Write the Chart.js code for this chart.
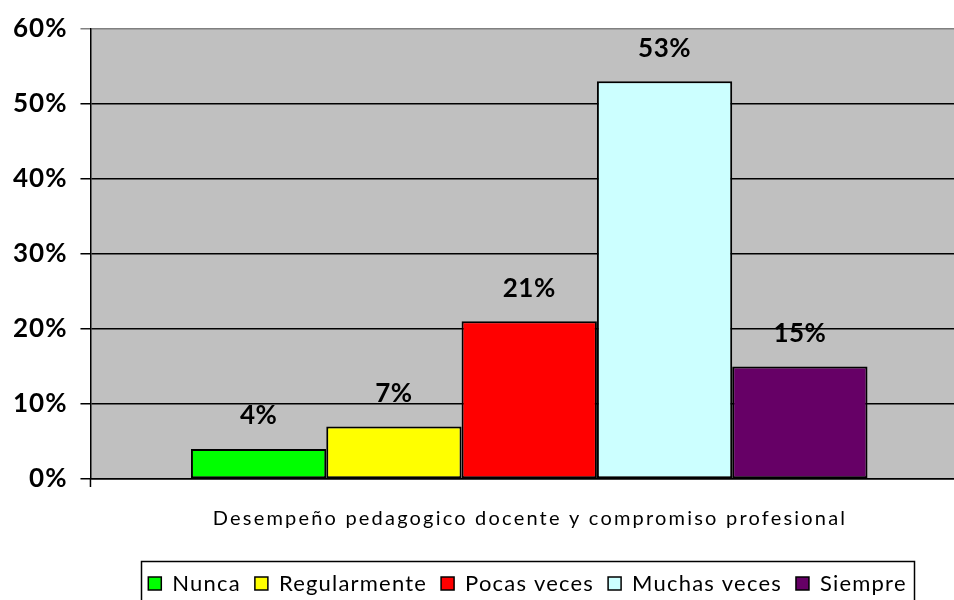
<!DOCTYPE html>
<html>
<head>
<meta charset="utf-8">
<script src="https://cdn.jsdelivr.net/npm/chart.js@4"></script>
<style>
  body { margin: 0; background: #fff; }
  #wrap { width: 954px; height: 600px; }
</style>
</head>
<body>
<div id="wrap"><canvas id="myChart" width="954" height="600"></canvas></div>
<script>
var categories = ["Desempeño pedagogico docente y compromiso profesional"];
var seriesNames = ["Nunca", "Regularmente", "Pocas veces", "Muchas veces", "Siempre"];
var seriesValues = [4, 7, 21, 53, 15];
var seriesColors = ["#00FF00", "#FFFF00", "#FF0000", "#CCFFFF", "#660066"];
var yTicks = [0, 10, 20, 30, 40, 50, 60];

var FONT = 'Lato, "Open Sans", sans-serif';
var ctx = document.getElementById("myChart");

var datasets = [];
for (var i = 0; i < seriesNames.length; i++) {
    datasets.push({
        label: seriesNames[i],
        data: [seriesValues[i]],
        backgroundColor: seriesColors[i],
        borderColor: '#000000',
        borderWidth: 2,
        borderSkipped: false,
        categoryPercentage: 0.771,
        barPercentage: 1
    });
}

// wider letter spacing, like the original rendering
var spacing = {
    id: 'spacing',
    beforeUpdate: function (chart) { chart.ctx.letterSpacing = '1px'; },
    beforeDraw: function (chart) { chart.ctx.letterSpacing = '1px'; }
};

// the original plot area runs a little past the right edge of the picture
var widenX = {
    id: 'widenX',
    afterLayout: function (chart) {
        var x = chart.scales.x;
        x.right += 14;
        x.width += 14;
        x.configure();
    }
};

// gray plot background
var plotBg = {
    id: 'plotBg',
    beforeDraw: function (chart) {
        var a = chart.chartArea;
        var c = chart.ctx;
        c.save();
        c.fillStyle = '#C0C0C0';
        c.fillRect(a.left, a.top, a.right - a.left, a.bottom - a.top);
        c.restore();
    }
};

// value labels above bars, x title, legend
var valueLabels = {
    id: 'valueLabels',
    afterDatasetsDraw: function (chart) {
        var c = chart.ctx;
        c.save();
        c.font = 'bold 26px ' + FONT;
        c.letterSpacing = '0.5px';
        c.fillStyle = '#000';
        c.textAlign = 'center';
        c.textBaseline = 'middle';
        chart.data.datasets.forEach(function (ds, i) {
            var bar = chart.getDatasetMeta(i).data[0];
            c.fillText(ds.data[0] + '%', bar.x, bar.y - 33);
        });
        c.restore();
    },
    afterDraw: function (chart) {
        var c = chart.ctx;
        var a = chart.chartArea;
        c.save();
        // little tick under the y axis
        c.strokeStyle = '#000';
        c.lineWidth = 1.5;
        c.beginPath();
        c.moveTo(a.left, a.bottom);
        c.lineTo(a.left, a.bottom + 8);
        c.stroke();

        // axis title
        c.font = '20px ' + FONT;
        c.letterSpacing = '2.2px';
        c.fillStyle = '#000';
        c.textAlign = 'center';
        c.textBaseline = 'middle';
        c.fillText(categories[0], 530, 519);

        // legend
        c.font = '22px ' + FONT;
        c.letterSpacing = '1.2px';
        c.textAlign = 'left';
        var total = 0;
        var widths = seriesNames.map(function (n) {
            var w = c.measureText(n).width;
            total += 13 + 11 + w;
            return w;
        });
        total += 14 * (seriesNames.length - 1);
        var lx = 527.5 - total / 2;
        var ly = 584;
        for (var i = 0; i < seriesNames.length; i++) {
            c.fillStyle = seriesColors[i];
            c.fillRect(lx, ly - 7, 13, 13);
            c.strokeStyle = '#000';
            c.lineWidth = 1.5;
            c.strokeRect(lx, ly - 7, 13, 13);
            c.fillStyle = '#000';
            c.fillText(seriesNames[i], lx + 24, ly);
            lx += 24 + widths[i] + 14;
        }
        c.strokeStyle = '#000';
        c.lineWidth = 1.5;
        c.strokeRect(141.5, 561.5, 773, 60);
        c.restore();
    }
};

var chart = new Chart(ctx, {
    type: 'bar',
    data: {
        labels: categories,
        datasets: datasets
    },
    plugins: [spacing, widenX, plotBg, valueLabels],
    options: {
        responsive: false,
        animation: false,
        devicePixelRatio: 1,
        layout: {
            padding: { top: 14, left: 0, right: 0, bottom: 39 }
        },
        plugins: {
            tooltip: { enabled: false },
            legend: { display: false }
        },
        scales: {
            x: {
                grid: { display: false, drawTicks: false },
                border: { display: true, color: '#000', width: 1.5 },
                ticks: { display: false },
                title: {
                    display: true,
                    text: categories[0],
                    color: 'rgba(0,0,0,0)',
                    font: { family: FONT, size: 20 },
                    padding: { top: 25, bottom: 33 }
                }
            },
            y: {
                min: yTicks[0],
                max: yTicks[yTicks.length - 1],
                afterBuildTicks: function (axis) {
                    axis.ticks = yTicks.map(function (v) { return { value: v }; });
                },
                grid: {
                    color: function (c) {
                        return c.tick && c.tick.value === yTicks[yTicks.length - 1] ? '#808080' : '#000';
                    },
                    lineWidth: 1.5,
                    drawTicks: true,
                    tickLength: 10
                },
                border: { display: true, color: '#000', width: 1.5 },
                ticks: {
                    color: '#000',
                    padding: 13,
                    font: { family: FONT, size: 26, weight: 'bold' },
                    callback: function (v) { return v + '%'; }
                }
            }
        }
    }
});
</script>
</body>
</html>
